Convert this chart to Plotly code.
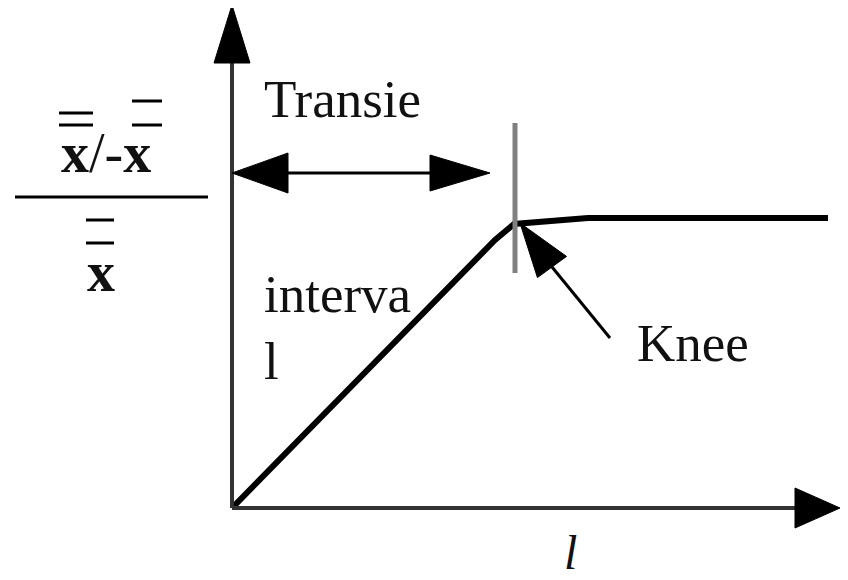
import math
import plotly.graph_objects as go

# curve: stays proportional during the transient interval, then flattens past the knee
curve_x = [0, 263, 282, 356, 596]
curve_y = [0, 268, 284, 290, 290]
knee_x = 282
knee_y = 284

transient_end = 258
transient_level = 335

label_transient = "Transie"
label_interval = ["interva", "l"]
label_knee = "Knee"
label_x = "l"

fig = go.Figure()

fig.add_trace(go.Scatter(x=curve_x, y=curve_y, mode="lines",
                         line=dict(color="black", width=6),
                         hoverinfo="skip", showlegend=False))


def tri(tip, base, half, color="black"):
    dx, dy = tip[0] - base[0], tip[1] - base[1]
    n = math.hypot(dx, dy)
    px, py = -dy / n * half, dx / n * half
    path = "M %f,%f L %f,%f L %f,%f Z" % (tip[0], tip[1],
                                          base[0] + px, base[1] + py,
                                          base[0] - px, base[1] - py)
    return dict(type="path", path=path, xref="x", yref="y",
                fillcolor=color, line=dict(color=color, width=1))


def seg(x0, y0, x1, y1, color="black", width=3):
    return dict(type="line", x0=x0, y0=y0, x1=x1, y1=y1, xref="x", yref="y",
                line=dict(color=color, width=width))


shapes = []
# axes
shapes.append(seg(0, 0, 0, 450, "#333333", 4))
shapes.append(tri((0, 503), (0, 445), 18))
shapes.append(seg(0, 0, 570, 0, "#333333", 4))
shapes.append(tri((608, 0), (563, 0), 20))

# transient double arrow
shapes.append(seg(50, transient_level, transient_end - 50, transient_level, "black", 3))
shapes.append(tri((0, transient_level), (56, transient_level), 20))
shapes.append(tri((transient_end, transient_level), (transient_end - 60, transient_level), 18))

# knee tick
shapes.append(seg(knee_x + 1, 235, knee_x + 1, 385, "#808080", 5))

# knee pointer
shapes.append(seg(320, 241, 378, 170, "black", 3))
shapes.append(tri((knee_x + 6, knee_y + 1), (320, 241), 18))

# y label: fraction with double bars
shapes.append(seg(-217, 311, -24, 311, "black", 3))
for y in (395, 383):
    shapes.append(seg(-173, y, -139, y, "black", 3))
for y in (407, 383):
    shapes.append(seg(-100, y, -70, y, "black", 3))
for y in (288, 265):
    shapes.append(seg(-146, y, -118, y, "black", 3))

fig.update_layout(shapes=shapes)

serif = "Liberation Serif"
ink = "#111111"
ann = []
ann.append(dict(x=30, y=409, text=label_transient, xanchor="left", yanchor="middle",
                font=dict(family=serif, size=53, color=ink)))
ann.append(dict(x=30, y=214, text=label_interval[0], xanchor="left", yanchor="middle",
                font=dict(family=serif, size=53, color=ink)))
ann.append(dict(x=30, y=147, text=label_interval[1], xanchor="left", yanchor="middle",
                font=dict(family=serif, size=53, color=ink)))
ann.append(dict(x=403, y=165, text=label_knee, xanchor="left", yanchor="middle",
                font=dict(family=serif, size=53, color=ink)))
ann.append(dict(x=338, y=-44, text="<i>" + label_x + "</i>", xanchor="center", yanchor="middle",
                font=dict(family=serif, size=48, color=ink)))
ann.append(dict(x=-126, y=355, text="<b>x</b>/-<b>x</b>", xanchor="center", yanchor="middle",
                font=dict(family=serif, size=56, color=ink)))
ann.append(dict(x=-131, y=236, text="<b>x</b>", xanchor="center", yanchor="middle",
                font=dict(family=serif, size=56, color=ink)))
for a in ann:
    a.update(xref="x", yref="y", showarrow=False)
fig.update_layout(annotations=ann)

# the page body adds an 8px margin, so the ranges are shifted to compensate
fig.update_layout(
    width=848, height=580, autosize=False,
    margin=dict(l=0, r=0, t=0, b=0),
    paper_bgcolor="white", plot_bgcolor="white",
    xaxis=dict(range=[-224, 624], visible=False, fixedrange=True),
    yaxis=dict(range=[-80, 500], visible=False, fixedrange=True),
    showlegend=False,
)

fig.write_html("out.html")
